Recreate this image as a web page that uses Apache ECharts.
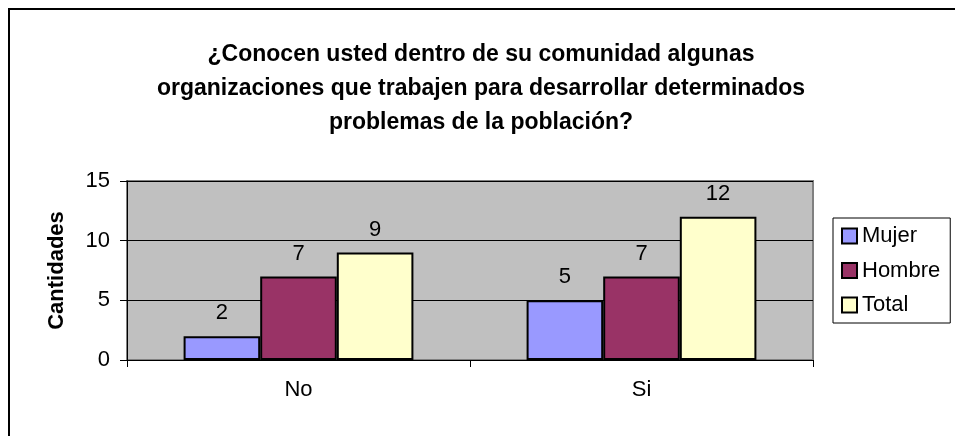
<!DOCTYPE html>
<html>
<head>
<meta charset="utf-8">
<script src="https://cdn.jsdelivr.net/npm/echarts@6/dist/echarts.min.js"></script>
<style>
  html, body { margin: 0; padding: 0; background: #fff; }
  #chart { width: 955px; height: 436px; }
</style>
</head>
<body>
<div id="chart"></div>
<script>
const categories = ['No', 'Si']
const mujer = [2, 5]
const hombre = [7, 7]
const total = [9, 12]
const yTicks = [0, 5, 10, 15]

const font = '"Liberation Sans", Arial, sans-serif'
const chart = echarts.init(document.getElementById('chart'))

function barSeries(name, data, color) {
  return {
    name,
    type: 'bar',
    data,
    barGap: '0%',
    barCategoryGap: '33%',
    itemStyle: { color, borderColor: '#000', borderWidth: 2 },
    label: {
      show: true,
      position: 'top',
      distance: 12,
      fontSize: 22,
      fontFamily: font,
      color: '#000'
    },
    emphasis: { disabled: true }
  }
}

chart.setOption({
  animation: false,
  textStyle: { fontFamily: font },
  title: {
    text: '¿Conocen usted dentro de su comunidad algunas\norganizaciones que trabajen para desarrollar determinados\nproblemas de la población?',
    left: 476,
    top: 33,
    textAlign: 'center',
    textStyle: { fontSize: 23, fontWeight: 'bold', color: '#000', lineHeight: 34, fontFamily: font }
  },
  graphic: [{
    type: 'rect',
    shape: { x: 9, y: 9, width: 960, height: 440 },
    style: { fill: 'none', stroke: '#000', lineWidth: 2 },
    silent: true
  }],
  legend: {
    orient: 'vertical',
    left: 833,
    top: 218,
    padding: [7, 10, 7, 8],
    borderColor: '#000',
    borderWidth: 1,
    itemWidth: 15,
    itemHeight: 15,
    itemGap: 12.5,
    icon: 'rect',
    itemStyle: { borderColor: '#000', borderWidth: 2 },
    textStyle: { fontSize: 22, color: '#000', fontFamily: font },
    data: ['Mujer', 'Hombre', 'Total']
  },
  grid: {
    left: 127,
    top: 181,
    width: 686,
    height: 179,
    show: true,
    backgroundColor: '#c0c0c0',
    borderColor: '#808080',
    borderWidth: 2
  },
  xAxis: {
    type: 'category',
    data: categories,
    axisLine: { lineStyle: { color: '#000', width: 1 } },
    axisTick: { show: true, length: 7, lineStyle: { color: '#000' } },
    axisLabel: { fontSize: 22, color: '#000', margin: 19, fontFamily: font }
  },
  yAxis: {
    type: 'value',
    min: yTicks[0],
    max: yTicks[yTicks.length - 1],
    interval: 5,
    name: 'Cantidades',
    nameLocation: 'middle',
    nameGap: 59,
    nameMoveOverlap: false,
    nameTextStyle: { fontSize: 22, fontWeight: 'bold', color: '#000', fontFamily: font },
    axisLine: { show: true, lineStyle: { color: '#000', width: 1 } },
    axisTick: { show: true, length: 7, lineStyle: { color: '#000' } },
    axisLabel: { fontSize: 22, color: '#000', margin: 17, fontFamily: font },
    splitLine: { lineStyle: { color: '#000', width: 1 } }
  },
  series: [
    barSeries('Mujer', mujer, '#9999ff'),
    barSeries('Hombre', hombre, '#993366'),
    barSeries('Total', total, '#ffffcc')
  ]
})
</script>
</body>
</html>
